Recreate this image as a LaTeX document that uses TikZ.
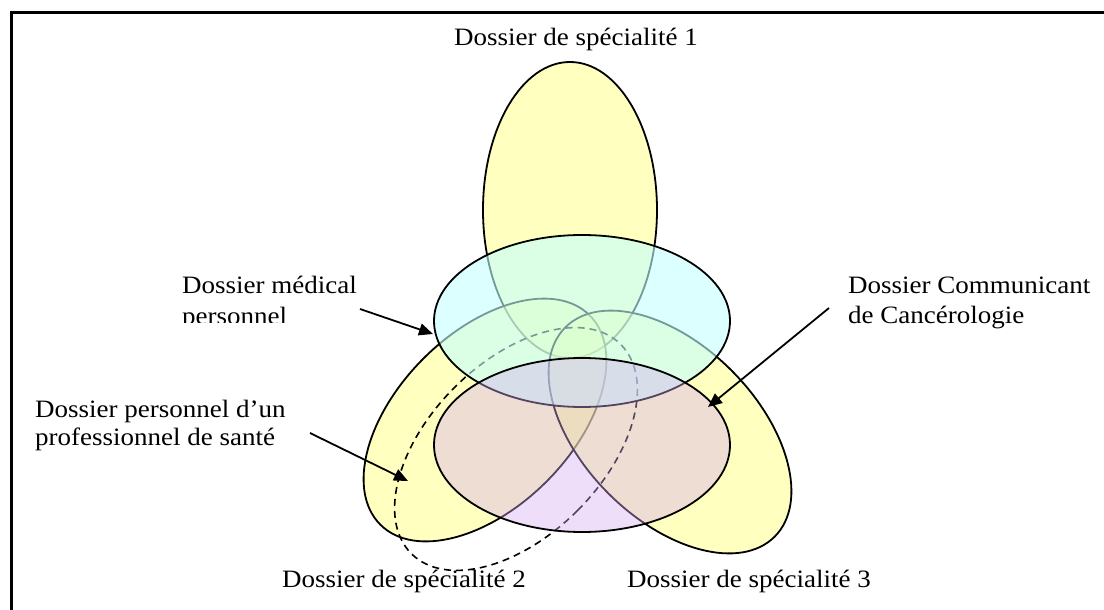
\documentclass[tikz,border=0pt]{standalone}
\usepackage{fontspec}
\setmainfont[FakeStretch=1.08]{Liberation Serif}
\usetikzlibrary{arrows.meta}
\definecolor{yelbase}{RGB}{255,255,128}
\definecolor{bluebase}{RGB}{196,255,255}
\definecolor{pinkbase}{RGB}{212,172,242}
\tikzset{
  lbl/.style={anchor=base west, inner sep=0pt, font=\fontsize{25}{30}\selectfont},
  yel/.style={draw=black, line width=1.8pt, fill=yelbase, fill opacity=0.5},
  bluesh/.style={draw=black, line width=1.8pt, fill=bluebase, fill opacity=0.6},
  pinksh/.style={draw=black, line width=1.8pt, fill=pinkbase, fill opacity=0.4},
  dashsh/.style={draw=black, line width=1.6pt, dash pattern=on 7pt off 5pt},
  pointer/.style={draw=black, line width=1.8pt, -{Triangle[length=14pt,width=12pt]}},
  frameline/.style={draw=black, line width=2.6pt}
}
\begin{document}
\begin{tikzpicture}[x=1pt,y=-1pt]
\useasboundingbox (0,0) rectangle (1104,610);
% frame
\draw[frameline] (11.5,610) -- (11.5,12.5) -- (1104,12.5);
% specialty dossiers
\path[yel] (570,210) ellipse [x radius=87pt, y radius=148pt];
\path[yel, rotate around={-45:(485,420)}] (485,420) ellipse [x radius=87pt, y radius=148pt];
\path[yel, rotate around={45:(670,432)}] (670,432) ellipse [x radius=87pt, y radius=148pt];
% dossier personnel d'un professionnel de santé (dashed)
\path[dashsh, rotate around={-45:(516,449)}] (516,449) ellipse [x radius=87pt, y radius=148pt];
% dossier médical personnel
\path[bluesh] (582,321) ellipse [x radius=148pt, y radius=86pt];
% dossier communicant de cancérologie
\path[pinksh] (582,445) ellipse [x radius=148pt, y radius=87pt];
% labels
\node[lbl] (s1) at (454,46) {Dossier de spécialité 1};
\node[lbl] (s2) at (282,587) {Dossier de spécialité 2};
\node[lbl] (s3) at (627,587) {Dossier de spécialité 3};
\node[lbl] (dmpa) at (182,293) {Dossier médical};
\begin{scope}
\clip (150,300) rectangle (420,322);
\node[lbl] (dmpb) at (182,324) {personnel};
\end{scope}
\node[lbl] (dppa) at (35,417) {Dossier personnel d’un};
\node[lbl] (dppb) at (35,445) {professionnel de santé};
\node[lbl] (dcca) at (848,293) {Dossier Communicant};
\node[lbl] (dccb) at (848,323) {de Cancérologie};
% arrows
\coordinate (dmpstart) at (360,309);
\coordinate (dmptip) at (433,334);
\coordinate (dppstart) at (310,433);
\coordinate (dpptip) at (408,481);
\coordinate (dccstart) at (829,308);
\coordinate (dcctip) at (708,407);
\draw[pointer] (dmpstart) -- (dmptip);
\draw[pointer] (dppstart) -- (dpptip);
\draw[pointer] (dccstart) -- (dcctip);
\end{tikzpicture}
\end{document}
